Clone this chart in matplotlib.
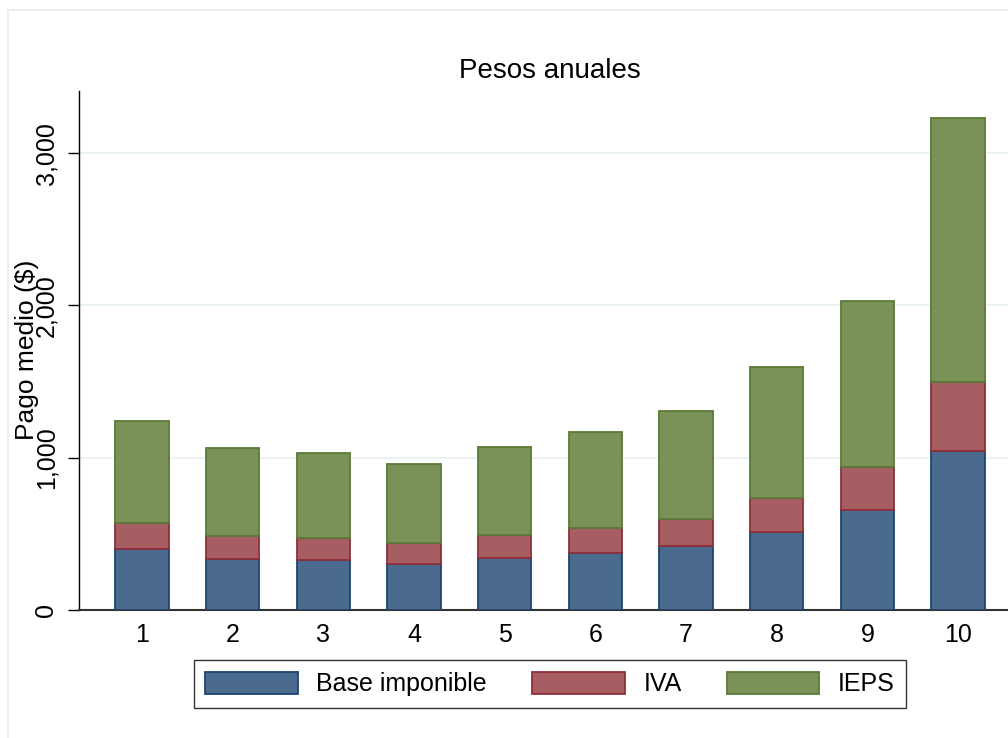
import numpy as np
import matplotlib
matplotlib.use('Agg')
import matplotlib.pyplot as plt
from matplotlib.patches import Rectangle

plt.rcParams['font.family'] = ['Liberation Sans', 'DejaVu Sans']

deciles = [1, 2, 3, 4, 5, 6, 7, 8, 9, 10]
base = [399, 337, 328, 302, 339, 372, 420, 512, 657, 1046]
iva = [174, 149, 147, 136, 151, 164, 180, 221, 280, 449]
ieps = [670, 580, 554, 523, 582, 635, 709, 863, 1094, 1738]
series_names = ['Base imponible', 'IVA', 'IEPS']
y_ticks = [0, 1000, 2000, 3000]
y_labels = ['0', '1,000', '2,000', '3,000']

fills = ['#4A6B8D', '#A65E62', '#7A9257']
edges = ['#1E4470', '#8E2F3A', '#5A7A36']

W, H = 1008, 738
fig = plt.figure(figsize=(W / 100, H / 100), dpi=100)
# light outer frame, cropped on the right and bottom like the original
fig.patches.append(Rectangle((8 / W, -0.1), 1.2, 1.1 - 10 / H, transform=fig.transFigure,
                             facecolor='none', edgecolor='#E3ECEE', lw=1.2))

ax = fig.add_axes([79 / W, 1 - 610 / H, 942 / W, 519 / H])
x = np.array(deciles)
bottom = np.zeros(len(x))
for vals, name, fc, ec in zip([base, iva, ieps], series_names, fills, edges):
    ax.bar(x, vals, width=0.59, bottom=bottom, color=fc, edgecolor=ec, lw=1.3,
           label=name, zorder=3)
    bottom = bottom + np.array(vals)

ax.set_xlim(0.305, 10.695)
ax.set_ylim(0, 3408)
ax.set_yticks(y_ticks)
ax.set_yticklabels(y_labels, rotation=90, va='center')
ax.set_xticks(x)
ax.set_xticklabels([str(d) for d in deciles])
ax.tick_params(axis='y', length=8, width=1, pad=7, labelsize=18)
ax.tick_params(axis='x', length=0, pad=9, labelsize=18)
ax.grid(axis='y', color='#EAF2F3', lw=1.5, zorder=0)
for s in ['top', 'right']:
    ax.spines[s].set_visible(False)
ax.spines['left'].set_color('black')
ax.spines['left'].set_linewidth(1.0)
ax.spines['bottom'].set_color('#333333')
ax.spines['bottom'].set_linewidth(1.5)

ax.set_title('Pesos anuales', fontsize=20, pad=9, x=(550 - 79) / 942)
fig.text(27 / W, 1 - 350 / H, 'Pago medio ($)', rotation=90, fontsize=19,
         ha='center', va='center')

leg = ax.legend(loc='center', bbox_to_anchor=(550 / W, 1 - 684 / H),
                bbox_transform=fig.transFigure, ncol=3, fontsize=18,
                frameon=True, fancybox=False, edgecolor='black',
                handlelength=3.7, handleheight=1.0, handletextpad=0.75,
                columnspacing=1.8, borderpad=0.45)
leg.get_frame().set_linewidth(1.0)

fig.savefig('out.png', dpi=100)
